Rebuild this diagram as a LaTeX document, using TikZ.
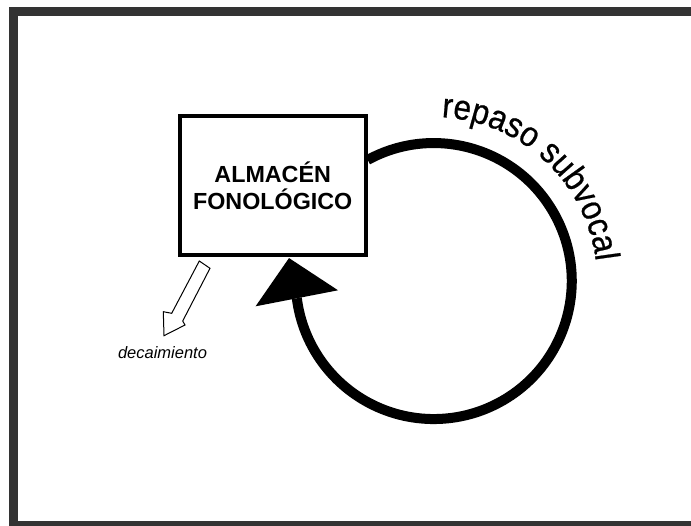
\documentclass[tikz,border=0pt]{standalone}
\usepackage{fontspec}
\setmainfont{Liberation Sans}
\newfontfamily\repfont{Liberation Sans}[FakeStretch=0.9,FakeBold=0.6]
\usetikzlibrary{arrows.meta,decorations.text}
\definecolor{framegray}{HTML}{333333}
\newcommand\repfmt{\repfont\fontsize{35}{40}\selectfont}
\begin{document}
\begin{tikzpicture}[x=1pt,y=-1pt,
  frameline/.style={draw=framegray,line width=9pt},
  storebox/.style={draw,line width=4pt,minimum width=186pt,minimum height=138.5pt,inner sep=0pt,align=center,font=\bfseries\fontsize{23.3}{26.7}\selectfont},
  loopline/.style={line width=10pt,-{Triangle[length=41pt,width=84pt,line width=0pt]}},
  decayarrow/.style={draw,line width=1pt,fill=white,line join=miter},
  decaylabel/.style={font=\itshape\fontsize{16.5}{20}\selectfont,anchor=base},
  arclabel/.style={decorate,decoration={text along path,text={|\repfmt|repaso subvocal},text align=left}}
]
\useasboundingbox (0,0) rectangle (691,525);
\clip (0,0) rectangle (691,525);
\draw[frameline] (13.5,11.85) rectangle (720,525.5);
\node[storebox] (box) at (272.7,185.5) {ALMACÉN\\FONOLÓGICO};
\coordinate (c) at (433,281);
\coordinate (s) at ([yshift=25.6pt]box.east);
\coordinate (tip) at ([xshift=16.3pt,yshift=-1.3pt]box.south);
\draw[loopline] (s) arc[start angle=-118.6,end angle=172.65,radius=138] -- (tip);
\path[arclabel] (c) ++(-87:164) arc[start angle=-87,end angle=15,radius=164];
\draw[decayarrow] (199.3,261) -- (210,268.3) -- (182.7,321) -- (185,325) -- (164,335.7) -- (163.3,311.7) -- (171.7,313.3) -- cycle;
\node[decaylabel] (decay) at (162.5,358) {decaimiento};
\end{tikzpicture}
\end{document}
